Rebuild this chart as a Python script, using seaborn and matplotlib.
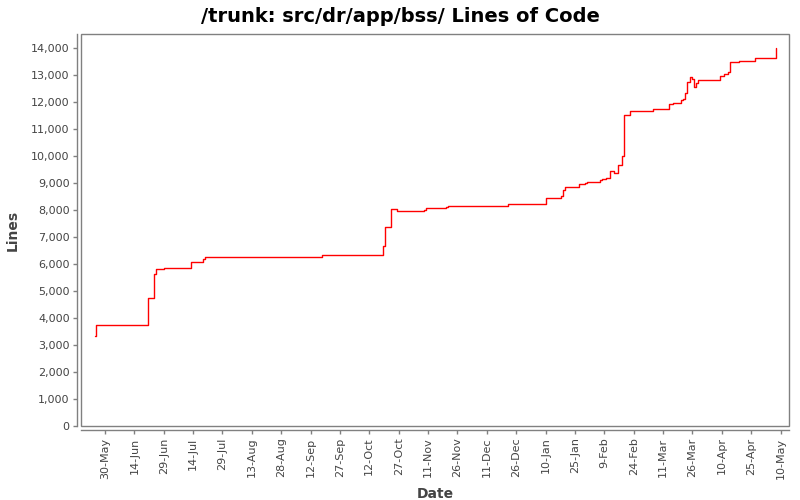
import pandas as pd
import numpy as np
import matplotlib
matplotlib.use("Agg")
import matplotlib.pyplot as plt
from matplotlib.patches import Rectangle
import seaborn as sns

# commit dates and line counts
dates = ["2006-05-25 00:00", "2006-05-25 06:00", "2006-06-21", "2006-06-24", "2006-06-25",
         "2006-06-29", "2006-07-13", "2006-07-19", "2006-07-20", "2006-09-18",
         "2006-10-19", "2006-10-20", "2006-10-23", "2006-10-26", "2006-11-09",
         "2006-11-10", "2006-11-20", "2006-11-21", "2006-12-22", "2007-01-10",
         "2007-01-18", "2007-01-19", "2007-01-20", "2007-01-27", "2007-01-30",
         "2007-01-31", "2007-02-07", "2007-02-08", "2007-02-10", "2007-02-12",
         "2007-02-14", "2007-02-16", "2007-02-18", "2007-02-19", "2007-02-22",
         "2007-03-06", "2007-03-14", "2007-03-16", "2007-03-20", "2007-03-21",
         "2007-03-22", "2007-03-23", "2007-03-25", "2007-03-26", "2007-03-27",
         "2007-03-28", "2007-03-29", "2007-04-09", "2007-04-11", "2007-04-13",
         "2007-04-14", "2007-04-19", "2007-04-27", "2007-05-07 12:00"]
lines = [3350, 3730, 4730, 5620, 5800,
         5840, 6060, 6180, 6260, 6320,
         6650, 7360, 8030, 7950, 8010,
         8060, 8110, 8140, 8220, 8440,
         8510, 8740, 8840, 8950, 9000,
         9040, 9110, 9140, 9170, 9440,
         9360, 9660, 9990, 11510, 11650,
         11750, 11930, 11960, 12070, 12130,
         12320, 12760, 12910, 12860, 12540,
         12690, 12800, 12950, 13020, 13100,
         13500, 13530, 13620, 13990]

tick_start = "2006-05-30"
n_ticks = 24

df = pd.DataFrame({"Date": pd.to_datetime(dates, format="mixed"), "Lines": lines})

sns.set_style("white")
plt.rcParams["font.family"] = ["DejaVu Sans"]

fig = plt.figure(figsize=(8, 5), dpi=100)
ax = fig.add_axes([0.10125, 0.148, 0.885, 0.784])

sns.lineplot(data=df, x="Date", y="Lines", drawstyle="steps-post",
             color="red", linewidth=1.0, ax=ax)

ax.set_xlim(pd.Timestamp("2006-05-17 18:00"), pd.Timestamp("2007-05-14 08:00"))
ax.set_ylim(0, 14520)

grey = "#808080"
for s in ["left", "bottom"]:
    ax.spines[s].set_position(("outward", 3.2))
for s in ax.spines.values():
    s.set_color(grey)
    s.set_linewidth(1)
ax.spines["top"].set_visible(False)
ax.spines["right"].set_visible(False)
ax.add_patch(Rectangle((0, 0), 1, 1, transform=ax.transAxes, fill=False,
                       edgecolor=grey, linewidth=1, clip_on=False))

ticks = pd.date_range(tick_start, periods=n_ticks, freq="15D")
ax.set_xticks(ticks)
ax.set_xticklabels([f"{t.day}-{t.strftime('%b')}" for t in ticks], rotation=90)
ax.set_yticks(np.arange(0, 14001, 1000))
ax.set_yticklabels([f"{v:,}" for v in range(0, 14001, 1000)])
ax.tick_params(axis="both", direction="out", length=3, width=1, color=grey,
               labelsize=8, labelcolor="#444444", pad=2,
               bottom=True, left=True)

ax.set_xlabel("Date", fontsize=10, fontweight="bold", color="#444444", labelpad=6)
ax.set_ylabel("Lines", fontsize=10, fontweight="bold", color="#444444", labelpad=8)
fig.suptitle("/trunk: src/dr/app/bss/ Lines of Code", fontsize=14,
             fontweight="bold", y=0.985, color="black")

fig.savefig("out.png", dpi=100)
